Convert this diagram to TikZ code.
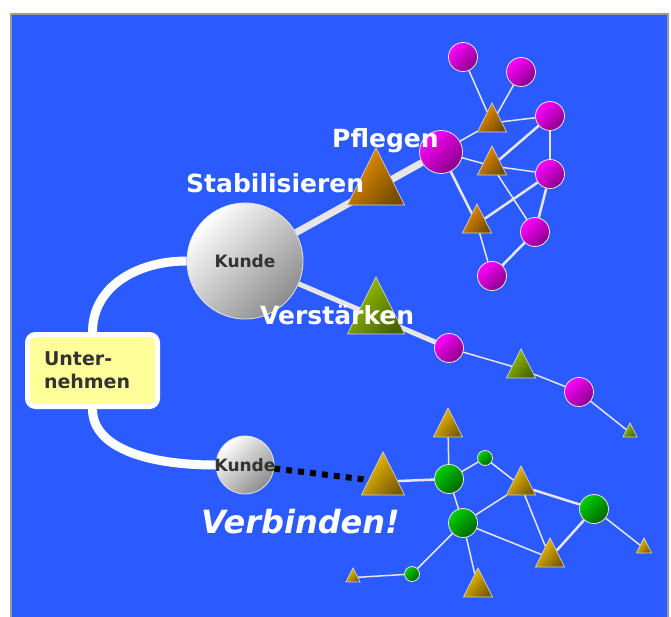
\documentclass[tikz,border=0pt]{standalone}
\usepackage{fontspec}
\setmainfont{DejaVu Sans}
\usetikzlibrary{shapes.geometric,backgrounds}
\pgfdeclarelayer{edges}
\pgfsetlayers{background,edges,main}

\definecolor{sky}{HTML}{2B5BFF}
\definecolor{frame}{HTML}{999999}
\definecolor{pale}{HTML}{FFFF99}
\definecolor{ink}{HTML}{333333}
\definecolor{wire}{HTML}{E6E6E6}
\definecolor{mgHi}{HTML}{FF00FF}
\definecolor{mgLo}{HTML}{880088}
\definecolor{grHi}{HTML}{00D000}
\definecolor{grLo}{HTML}{006400}
\definecolor{orHi}{HTML}{F29300}
\definecolor{orLo}{HTML}{744C00}
\definecolor{olHi}{HTML}{9CC400}
\definecolor{olLo}{HTML}{486400}
\definecolor{gdHi}{HTML}{F5C400}
\definecolor{gdLo}{HTML}{7C5C00}

\tikzset{
  ball/.style={circle, inner sep=0pt, minimum size=#1pt, draw=wire, line width=0.8pt},
  tri/.style={isosceles triangle, isosceles triangle stretches, shape border rotate=90,
    inner sep=0pt, minimum width=#1pt, minimum height=#1pt, anchor=apex,
    draw=wire!80!gray, line width=0.7pt},
  silver/.style={top color=white, bottom color=black!45, shading angle=45},
  pink/.style={top color=mgHi, bottom color=mgLo, shading angle=45},
  leaf/.style={top color=grHi, bottom color=grLo, shading angle=45},
  amber/.style={top color=orHi, bottom color=orLo, shading angle=50},
  olive/.style={top color=olHi, bottom color=olLo, shading angle=50},
  gold/.style={top color=gdHi, bottom color=gdLo, shading angle=50},
  firm/.style={rounded corners=8pt, fill=pale, draw=white, line width=5pt,
    minimum width=130pt, minimum height=72pt, text width=97pt, align=left,
    text=ink, font=\fontsize{19}{23}\selectfont\bfseries},
  tag/.style={text=white, inner sep=0pt, anchor=base west,
    font=\fontsize{25}{30}\selectfont\bfseries},
  rope/.style={white, line width=9pt},
  beam/.style={wire, line width=7pt},
  link/.style={wire, line width=1.5pt},
  dots/.style={black, line width=6pt, dash pattern=on 6pt off 6pt}
}

\begin{document}
\begin{tikzpicture}[x=1pt,y=-1pt]
    \useasboundingbox (0,0) rectangle (671,617);
    \begin{pgfonlayer}{background}
        \fill[white] (0,0) rectangle (671,617);
        \fill[sky] (11,14) rectangle (668,617);
        \draw[frame, line width=1.5pt] (11,617) -- (11,14) -- (668,14) -- (668,617);
    \end{pgfonlayer}

    % Company and customers
    \node[firm] (firm) at (92.5,370.5) {Unter-\\nehmen};
    \node[ball=116, silver, text=ink, font=\fontsize{17}{20}\selectfont\bfseries] (kunde) at (245,261) {Kunde};
    \node[ball=58, silver] (kundeB) at (245,465) {};

    % Circles
    \node[ball=43, pink] (pfl) at (441,152) {};
    \foreach \n/\x/\y in {cP1/463/57, cP2/521/72, cP3/550/116, cP4/550/174, cP5/535/232, cP6/492/276, cV1/449/348, cV2/579/392}
        \node[ball=29, pink] (\n) at (\x,\y) {};
    \foreach \n/\x/\y/\d in {cB1/449/479/29, cB2/485/458/15, cB3/463/523/29, cB4/594/509/29, cB5/412/574/15}
        \node[ball=\d, leaf] (\n) at (\x,\y) {};

    % Triangles
    \node[tri=57, amber] (tS) at (376,147) {};
    \node[tri=57, olive] (tV) at (376,276) {};
    \node[tri=43, gold] (tB) at (383,451) {};
    \foreach \n/\x/\y in {tP1/492/102, tP2/492/145, tP3/477/203}
        \node[tri=29, amber] (\n) at (\x,\y) {};
    \node[tri=29, olive] (tV1) at (521,348) {};
    \node[tri=14, olive] (tV2) at (630,422) {};
    \foreach \n/\x/\y/\s in {tB1/448/407/29, tB2/521/465/29, tB3/550/537/29, tB4/644/537/15, tB5/353/567/14, tB6/478/567/29}
        \node[tri=\s, gold] (\n) at (\x,\y) {};

    % Connectors
    \begin{pgfonlayer}{edges}
        \draw[rope] (firm.north) .. controls +(0,-45) and +(-50,0) .. (kunde.west);
        \draw[rope] (firm.south) .. controls +(0,38) and +(-70,0) .. (kundeB.west);
        \draw[beam] (kunde) -- (pfl);
        \draw[beam, line width=5pt] (kunde) -- (cV1);
        \draw[dots] (kundeB) -- (tB);
        \foreach \a/\b in {cP1/tP1, cP2/tP1, tP1/cP3, pfl/tP1, pfl/tP2, tP2/cP4, tP2/cP5, tP3/cP6,
                           cV1/tV1, tV1/cV2, cV2/tV2,
                           tB1/cB1, cB1/cB2, cB1/cB3, cB2/tB2, cB3/tB2, tB2/tB3, cB3/tB3, cB4/tB4, cB3/cB5, cB3/tB6, cB5/tB5}
            \draw[link] (\a) -- (\b);
        \foreach \a/\b in {tP2/cP3, cP3/cP4, pfl/tP3, tP3/cP4, cP4/cP5, cP6/cP5, tB/cB1, tB2/cB4, cB4/tB3}
            \draw[link, line width=2.5pt] (\a) -- (\b);
    \end{pgfonlayer}

    % Labels
    \node[text=ink, font=\fontsize{17}{20}\selectfont\bfseries] (kundeBtxt) at (kundeB) {Kunde};
    \node[tag] (pflegen) at (332,148) {Pflegen};
    \node[tag] (stabil) at (186,193) {Stabilisieren};
    \node[tag] (verst) at (260,324) {Verstärken};
    \node[tag, font=\fontsize{32}{38}\selectfont\bfseries\itshape] (verbind) at (201,533) {Verbinden!};
\end{tikzpicture}
\end{document}
